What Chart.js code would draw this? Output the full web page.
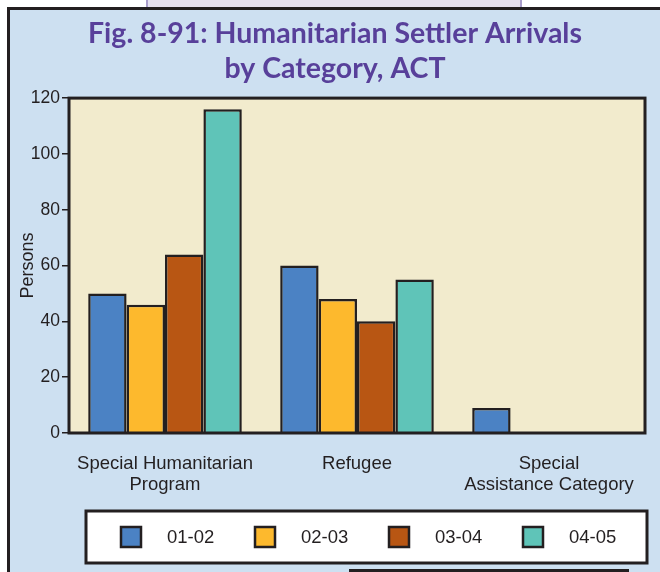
<!DOCTYPE html>
<html>
<head>
<meta charset="utf-8">
<script src="https://cdn.jsdelivr.net/npm/chart.js"></script>
<style>
  html, body { margin: 0; background: #ffffff; overflow: hidden; width: 660px; height: 572px; }
  #panel { position: absolute; left: 7px; top: 7px; width: 653px; height: 565px; background: #cde0f1; }
  #lineTop { position: absolute; left: 7px; top: 7px; width: 653px; height: 3px; background: #231f20; }
  #lineLeft { position: absolute; left: 7px; top: 7px; width: 3px; height: 565px; background: #231f20; }
  #tab { position: absolute; left: 146px; top: -3px; width: 372px; height: 10px;
    background: #e6e1f0; border: 2px solid #a99dca; border-top: none; border-bottom: none; }
  #foot { position: absolute; left: 349px; top: 569px; width: 274px; height: 20px;
    background: #cde0f1; border: 3px solid #231f20; }
  #chart { position: absolute; left: 0; top: 0; }
</style>
</head>
<body>
<div id="panel"></div>
<div id="lineTop"></div>
<div id="lineLeft"></div>
<div id="tab"></div>
<div id="foot"></div>
<canvas id="chart" width="660" height="572"></canvas>
<script>
let titleLines = ["Fig. 8-91: Humanitarian Settler Arrivals", "by Category, ACT"];
let categories = [["Special Humanitarian", "Program"], "Refugee", ["Special", "Assistance Category"]];
let seriesNames = ["01-02", "02-03", "03-04", "04-05"];
let seriesColors = ["#4b82c4", "#fdb92d", "#b85613", "#5fc4b8"];
let values0102 = [50, 60, 9];
let values0203 = [46, 48, 0];
let values0304 = [64, 40, 0];
let values0405 = [116, 55, 0];
let yTicks = [0, 20, 40, 60, 80, 100, 120];

let ink = "#231f20";
let sans = "'Liberation Sans', Arial, sans-serif";

// plot background + frame
const plotFrame = {
  id: "plotFrame",
  beforeDatasetsDraw(chart) {
    let a = chart.chartArea;
    let ctx = chart.ctx;
    ctx.save();
    ctx.fillStyle = "#f2ebcd";
    ctx.fillRect(a.left, a.top, a.right - a.left, a.bottom - a.top);
    ctx.restore();
  },
  afterDatasetsDraw(chart) {
    let a = chart.chartArea;
    let ctx = chart.ctx;
    ctx.save();
    ctx.strokeStyle = ink;
    ctx.lineWidth = 3;
    ctx.strokeRect(a.left, a.top, a.right - a.left, a.bottom - a.top);
    ctx.restore();
  }
};

// boxed legend under the chart
const boxLegend = {
  id: "boxLegend",
  afterDraw(chart) {
    let a = chart.chartArea;
    let ctx = chart.ctx;
    let left = a.left + 17, right = a.right + 2, top = a.bottom + 78, bottom = a.bottom + 130;
    ctx.save();
    ctx.fillStyle = "#ffffff";
    ctx.fillRect(left, top, right - left, bottom - top);
    ctx.strokeStyle = ink;
    ctx.lineWidth = 3;
    ctx.strokeRect(left, top, right - left, bottom - top);
    let mid = (top + bottom) / 2;
    chart.data.datasets.forEach((ds, i) => {
      let x = left + 35 + i * 134;
      ctx.fillStyle = ds.backgroundColor;
      ctx.fillRect(x, mid - 10, 20, 20);
      ctx.lineWidth = 2.5;
      ctx.strokeStyle = ink;
      ctx.strokeRect(x, mid - 10, 20, 20);
      ctx.fillStyle = ink;
      ctx.font = "18.5px " + sans;
      ctx.textBaseline = "middle";
      ctx.textAlign = "left";
      ctx.fillText(ds.label, x + 46, mid + 1);
    });
    ctx.restore();
  }
};

let allValues = [values0102, values0203, values0304, values0405];

new Chart(document.getElementById("chart").getContext("2d"), {
  type: "bar",
  data: {
    labels: categories,
    datasets: seriesNames.map((name, i) => ({
      label: name,
      data: allValues[i],
      backgroundColor: seriesColors[i],
      borderColor: ink,
      borderWidth: 2.5,
      categoryPercentage: 0.8,
      barPercentage: 1.0
    }))
  },
  options: {
    responsive: false,
    animation: false,
    layout: { padding: { left: 25, right: 15, top: 0, bottom: 0 } },
    plugins: {
      legend: { display: false },
      tooltip: { enabled: false },
      title: {
        display: true,
        text: titleLines,
        color: "#58409a",
        font: { family: "Lato, 'Open Sans', sans-serif", size: 28.5, weight: "bold", lineHeight: 1.23 },
        padding: { top: 16, bottom: 12 }
      }
    },
    scales: {
      x: {
        grid: { display: false },
        border: { display: false },
        ticks: { color: ink, font: { family: sans, size: 18.5, lineHeight: 1.1 }, padding: 13, maxRotation: 0, autoSkip: false },
        afterFit(s) { s.height = 139; }
      },
      y: {
        min: 0,
        max: 120,
        afterBuildTicks(s) { s.ticks = yTicks.map(v => ({ value: v })); },
        grid: { drawOnChartArea: false, drawTicks: true, tickLength: 7, color: ink, lineWidth: 1.5 },
        border: { display: false },
        ticks: { color: ink, font: { family: sans, size: 17.5 }, padding: 2 },
        title: { display: true, text: "Persons", color: ink, font: { family: sans, size: 18 }, padding: { top: -8, bottom: 0 } },
        afterFit(s) { s.width = 44; }
      }
    }
  },
  plugins: [plotFrame, boxLegend]
});
</script>
</body>
</html>
